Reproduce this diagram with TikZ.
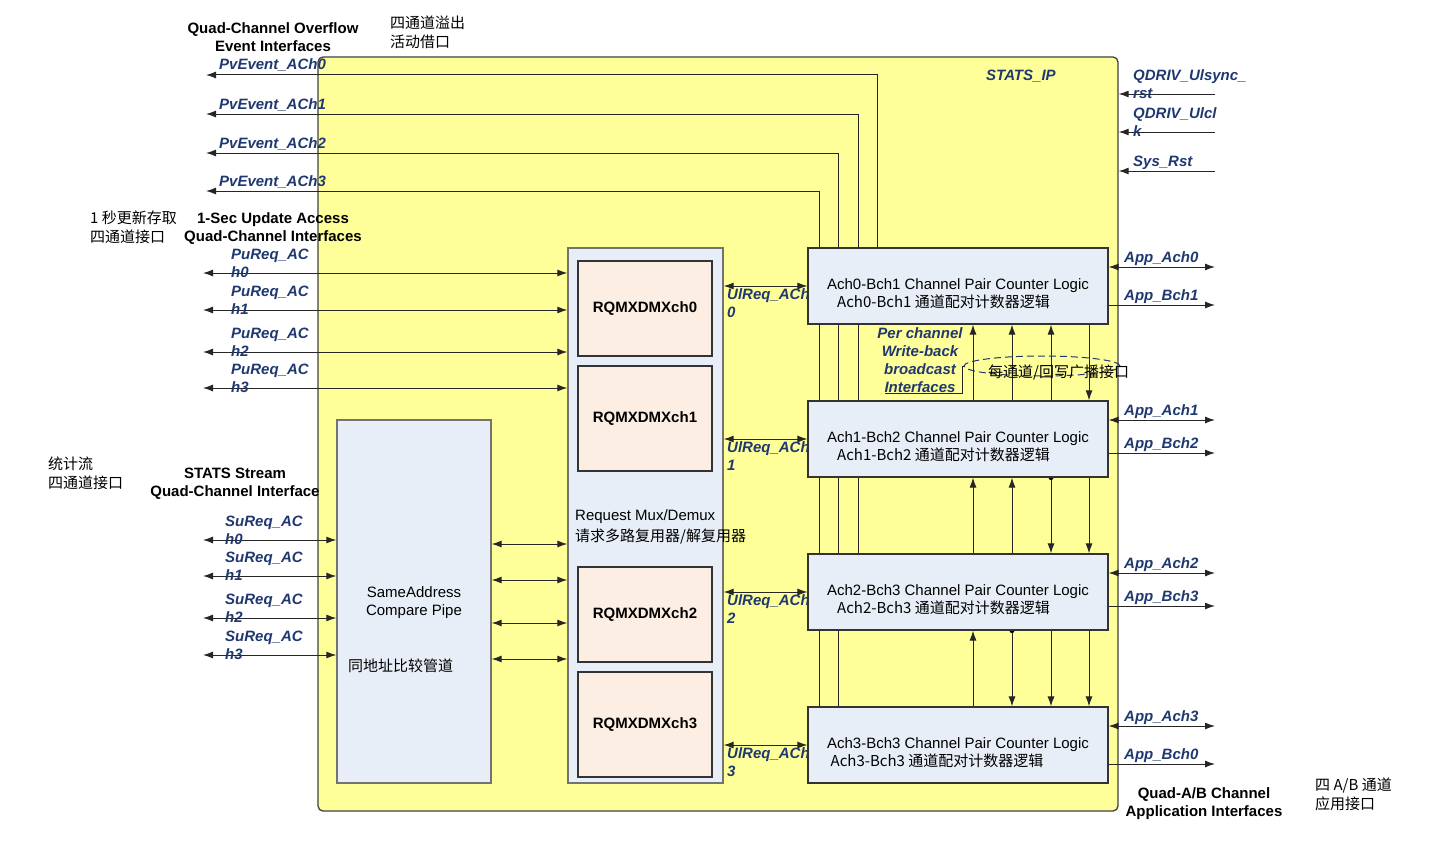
\documentclass[tikz,border=0pt]{standalone}
\usepackage{fontspec}
\setmainfont{Liberation Sans}
\newfontfamily\zhfont{Noto Sans CJK SC}
\usetikzlibrary{positioning,arrows.meta,shapes.geometric}

\definecolor{ipyellow}{RGB}{255,255,153}
\definecolor{blkblue}{RGB}{232,238,248}
\definecolor{rqpeach}{RGB}{253,238,227}
\definecolor{sigblue}{RGB}{31,56,112}

\newcommand{\pxfont}{\fontsize{15pt}{18pt}\selectfont}

\pgfdeclarelayer{bg}
\pgfdeclarelayer{wires}
\pgfsetlayers{bg,wires,main}

\tikzset{
  ipbox/.style={rectangle, draw=black!75, fill=ipyellow, line width=1.3pt, rounded corners=5pt},
  blkbox/.style={rectangle, draw=black!55, fill=blkblue, line width=1.3pt},
  cpbox/.style={rectangle, draw=black!80, fill=blkblue, line width=1.2pt, minimum width=300pt, minimum height=76pt},
  rqbox/.style={rectangle, draw=black!80, fill=rqpeach, line width=1.2pt, minimum width=134pt, font=\pxfont\bfseries},
  sig/.style={inner sep=0pt, align=left, text=sigblue, font=\pxfont\bfseries\itshape},
  ttl/.style={inner sep=0pt, align=center, font=\pxfont\bfseries},
  zh/.style={inner sep=0pt, align=left, font=\fontsize{15pt}{19pt}\selectfont\zhfont},
  txt/.style={inner sep=0pt, font=\pxfont},
  wire/.style={line width=1pt, draw=black!85},
}

\begin{document}
\begin{tikzpicture}[x=1pt, y=-1pt, >={Latex[length=10pt,width=7pt]}]
\useasboundingbox (0,0) rectangle (1446,843);

\begin{pgfonlayer}{bg}
  \node[ipbox, minimum width=800pt, minimum height=754pt] (ip) at (718,434) {};
\end{pgfonlayer}

\node[blkbox, minimum width=154pt, minimum height=363pt] (sab) at (414,601.5) {};
\node[blkbox, minimum width=155pt, minimum height=535pt] (mux) at (645.5,515.5) {};
\node[rqbox, minimum height=95pt] (rq0) at (645,308.5) {RQMXDMXch0};
\node[rqbox, minimum height=105pt] (rq1) at (645,418.5) {RQMXDMXch1};
\node[rqbox, minimum height=95pt] (rq2) at (645,614.5) {RQMXDMXch2};
\node[rqbox, minimum height=105pt] (rq3) at (645,724.5) {RQMXDMXch3};

\foreach \n/\yy/\pr/\gap in {0/286/Ach0-Bch1/29, 1/439/Ach1-Bch2/29, 2/592/Ach2-Bch3/29, 3/745/Ach3-Bch3/42} {
  \node[cpbox] (cp\n) at (958,\yy) {};
  \node[txt, align=center] (cpt\n) at ([yshift=-8pt]cp\n.center) {\pr{} Channel Pair Counter Logic\\{\zhfont \pr{} 通道配对计数器逻辑}\hspace*{\gap pt}};
}

\node[txt, align=left, anchor=north west] (muxt) at (575,509) {Request Mux/Demux\\[3pt]{\zhfont 请求多路复用器/解复用器}};
\node[txt, align=center, anchor=north] (sabt) at (414,586.6) {SameAddress\\Compare Pipe};
\node[zh, anchor=west] (sabz) at (348,666) {同地址比较管道};

\begin{pgfonlayer}{wires}
  \foreach \n/\yy/\xx/\dst in {0/75/877/cp0, 1/114/858/cp2, 2/153/838/cp3, 3/191/819/cp3} {
    \coordinate (pv\n) at (206,\yy);
    \coordinate (tp\n) at (\xx,\yy);
    \draw[wire,->] (\dst.north -| tp\n) -- (tp\n) -- (pv\n);
  }
  \foreach \n/\yy in {0/273, 1/310, 2/352, 3/388} {
    \coordinate (pu\n) at (203,\yy);
    \draw[wire,<->] (pu\n) -- (pu\n -| mux.west);
  }
  \foreach \n/\yy in {0/540, 1/576, 2/618, 3/655} {
    \coordinate (su\n) at (203,\yy);
    \draw[wire,<->] (su\n) -- (su\n -| sab.west);
  }
  \foreach \n/\yy in {0/544, 1/580, 2/623, 3/659} {
    \coordinate (sm\n) at (530,\yy);
    \draw[wire,<->] (sm\n -| sab.east) -- (sm\n -| mux.west);
  }
  \foreach \n/\yy in {0/286, 1/439, 2/592, 3/745} {
    \draw[wire,<->] (cp\n.west -| mux.east) -- (cp\n.west);
    \node[sig, anchor=north west] (ull\n) at (727,\yy+2) {UlReq\_ACh\\\n};
  }

  \coordinate (b1) at (973,0);
  \coordinate (b2) at (1012,0);
  \coordinate (b3) at (1051,0);
  \coordinate (b4) at (1089,0);
  \foreach \src/\dst in {cp3/cp2, cp2/cp1, cp1/cp0}
    \draw[wire,->] (\src.north -| b1) -- (\dst.south -| b1);
  \foreach \src/\dst in {cp2/cp1, cp1/cp0}
    \draw[wire,->] (\src.north -| b2) -- (\dst.south -| b2);
  \draw[wire,->] (cp2.south -| b2) -- (cp3.north -| b2);
  \draw[wire,->] (cp1.north -| b3) -- (cp0.south -| b3);
  \foreach \src/\dst in {cp1/cp2, cp2/cp3}
    \draw[wire,->] (\src.south -| b3) -- (\dst.north -| b3);
  \foreach \src/\dst in {cp0/cp1, cp1/cp2, cp2/cp3}
    \draw[wire,->] (\src.south -| b4) -- (\dst.north -| b4);
  \fill (cp2.south -| b2) circle (2.5);
  \fill (cp1.south -| b3) circle (2.5);

  \foreach \c/\yy/\t in {cp0/267/Ach0, cp1/420/Ach1, cp2/573/Ach2, cp3/726/Ach3} {
    \coordinate (app\t) at (1215,\yy);
    \draw[wire,<->] (app\t -| \c.east) -- (app\t);
  }
  \foreach \c/\yy/\t in {cp0/305/Bch1, cp1/453/Bch2, cp2/606/Bch3, cp3/764/Bch0} {
    \coordinate (app\t) at (1215,\yy);
    \draw[wire,->] (app\t -| \c.east) -- (app\t);
  }
  \coordinate (qrst) at (1215,94);
  \coordinate (qclk) at (1215,132);
  \coordinate (srst) at (1215,171);
  \foreach \q in {qrst, qclk, srst}
    \draw[wire,->] (\q) -- (\q -| ip.east);
\end{pgfonlayer}

\node[sig, anchor=base west] (iplbl) at (986,80.4) {STATS\_IP};
\foreach \n/\yy in {0/75, 1/114, 2/153, 3/191}
  \node[sig, anchor=base west] (pvl\n) at (219,\yy-5) {PvEvent\_ACh\n};
\foreach \n/\yy in {0/273, 1/310, 2/352, 3/388}
  \node[sig, anchor=north west] (pul\n) at (231,\yy-24) {PuReq\_AC\\h\n};
\foreach \n/\yy in {0/540, 1/576, 2/618, 3/655}
  \node[sig, anchor=north west] (sul\n) at (225,\yy-24) {SuReq\_AC\\h\n};
\foreach \yy/\t in {267/Ach0, 305/Bch1, 420/Ach1, 453/Bch2, 573/Ach2, 606/Bch3, 726/Ach3, 764/Bch0}
  \node[sig, anchor=base west] (appl\t) at (1124,\yy-5) {App\_\t};
\node[sig, anchor=north west] (qrstl) at (1133,69.6) {QDRIV\_Ulsync\_\\rst};
\node[sig, anchor=north west] (qclkl) at (1133,107.6) {QDRIV\_Ulcl\\k};
\node[sig, anchor=base west] (srstl) at (1133,166.4) {Sys\_Rst};

\node[sig, align=center, anchor=north] (pcw) at (920,327.6) {Per channel\\Write-back\\broadcast\\Interfaces};
\node[ellipse, draw=sigblue, dash pattern=on 7pt off 4pt, line width=1pt, minimum width=156pt, minimum height=20pt] (wbring) at (1042,366) {};
\draw[wire] ([xshift=8pt]pcw.south west) -- (pcw.south east) |- (wbring.west);
\node[zh, anchor=west] (wbz) at (988,372) {每通道/回写广播接口};

\node[ttl, anchor=north] (ovt) at (273,22.6) {Quad-Channel Overflow\\Event Interfaces};
\node[ttl, anchor=north] (put) at (273,212.6) {1-Sec Update Access\\Quad-Channel Interfaces};
\node[ttl, anchor=north] (sut) at (235,467.6) {STATS Stream\\Quad-Channel Interface};
\node[ttl, anchor=north] (apt) at (1204,787.6) {Quad-A/B Channel\\Application Interfaces};

\node[zh, anchor=north west] (ovz) at (390,16) {四通道溢出\\活动借口};
\node[zh, anchor=north west] (puz) at (90,211) {1 秒更新存取\\四通道接口};
\node[zh, anchor=north west] (suz) at (48,457) {统计流\\四通道接口};
\node[zh, anchor=north west] (apz) at (1315,778) {四 A/B 通道\\应用接口};
\end{tikzpicture}
\end{document}
